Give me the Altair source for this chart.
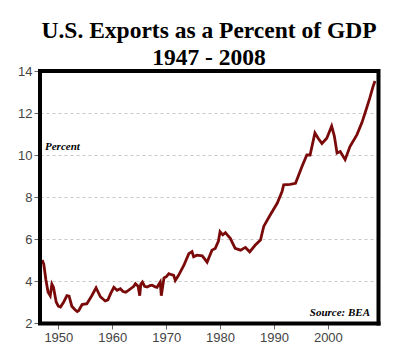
import altair as alt
import pandas as pd

years = [1947.0, 1947.3, 1947.7, 1948.1, 1948.5, 1948.8, 1949.1, 1949.6, 1950.0, 1950.4,
         1951.0, 1951.6, 1952.0, 1952.5, 1953.1, 1953.5, 1953.8, 1954.4, 1955.3, 1956.2,
         1957.0, 1957.8, 1958.7, 1959.2, 1959.7, 1960.3, 1960.9, 1961.5, 1962.0, 1962.5,
         1963.0, 1963.4, 1964.0, 1964.3, 1964.8, 1965.1, 1965.3, 1965.6, 1966.0, 1966.5,
         1967.0, 1967.4, 1968.0, 1968.3, 1968.9, 1969.1, 1969.6, 1970.0, 1970.5, 1971.0,
         1971.4, 1971.7, 1972.3, 1973.3, 1974.2, 1974.8, 1975.1, 1975.7, 1976.7, 1977.6,
         1978.5, 1979.1, 1979.7, 1980.0, 1980.5, 1981.0, 1981.5, 1981.9, 1982.8, 1983.8,
         1984.7, 1985.5, 1986.5, 1987.5, 1988.1, 1989.3, 1990.6, 1991.5, 1991.8, 1993.0,
         1994.0, 1995.2, 1996.1, 1996.7, 1997.6, 1998.2, 1998.9, 1999.8, 2000.7, 2001.2,
         2001.7, 2002.3, 2003.2, 2004.1, 2005.4, 2006.3, 2006.9, 2007.8, 2008.4, 2008.75]
values = [5.0, 4.8, 4.05, 3.47, 3.3, 3.85, 3.7, 3.0, 2.8, 2.76,
          3.0, 3.3, 3.28, 2.8, 2.63, 2.55, 2.6, 2.88, 2.92, 3.3,
          3.68, 3.25, 3.05, 3.1, 3.4, 3.7, 3.56, 3.63, 3.5, 3.47,
          3.55, 3.63, 3.75, 3.87, 3.75, 3.3, 3.85, 3.95, 3.75, 3.71,
          3.78, 3.8, 3.72, 3.7, 3.95, 3.3, 4.15, 4.2, 4.35, 4.3,
          4.27, 4.03, 4.27, 4.75, 5.3, 5.4, 5.15, 5.23, 5.2, 4.9,
          5.47, 5.55, 5.9, 6.35, 6.2, 6.3, 6.15, 6.03, 5.55, 5.47,
          5.6, 5.39, 5.7, 5.95, 6.6, 7.14, 7.7, 8.26, 8.58, 8.6,
          8.65, 9.45, 10.0, 10.0, 11.05, 10.8, 10.55, 10.8, 11.37, 10.9,
          10.1, 10.17, 9.78, 10.4, 10.97, 11.53, 12.0, 12.73, 13.28, 13.52]

title_lines = ["U.S. Exports as a Percent of GDP", "1947 - 2008"]
y_ticks = [2, 4, 6, 8, 10, 12, 14]
x_ticks = [1950, 1960, 1970, 1980, 1990, 2000]

df = pd.DataFrame({"year": years, "value": values})

W, H = 338, 252

x_scale = alt.Scale(domain=[1946.6, 2009.3], nice=False, zero=False)
y_scale = alt.Scale(domain=[2, 14], nice=False, zero=False)

line = alt.Chart(df).mark_line(color="#7a0a0a", strokeWidth=2.8).encode(
    x=alt.X("year:Q", scale=x_scale,
            axis=alt.Axis(values=x_ticks, format="d", title=None, grid=False, domain=False,
                          tickSize=6, tickColor="#666", labelColor="#444", labelFontSize=13,
                          labelFont="Liberation Sans", labelPadding=2)),
    y=alt.Y("value:Q", scale=y_scale,
            axis=alt.Axis(values=y_ticks, title=None, grid=True, gridDash=[3, 3], gridColor="#c8c8c8",
                          domain=False, tickSize=6, tickColor="#666", labelColor="#444",
                          labelFontSize=13, labelFont="Liberation Sans", labelPadding=2)),
)

t1 = alt.Chart(pd.DataFrame({"t": [title_lines[0]]})).mark_text(
    font="Liberation Serif", fontSize=23.5, fontWeight="bold", align="center", baseline="alphabetic"
).encode(text="t:N", x=alt.value(W / 2), y=alt.value(-33))
t2 = alt.Chart(pd.DataFrame({"t": [title_lines[1]]})).mark_text(
    font="Liberation Serif", fontSize=23.5, fontWeight="bold", align="center", baseline="alphabetic"
).encode(text="t:N", x=alt.value(W / 2), y=alt.value(-6))

pct = alt.Chart(pd.DataFrame({"t": ["Percent"]})).mark_text(
    font="Liberation Serif", fontSize=11, fontWeight="bold", fontStyle="italic", align="left"
).encode(text="t:N", x=alt.value(5), y=alt.value(76))
src = alt.Chart(pd.DataFrame({"t": ["Source: BEA"]})).mark_text(
    font="Liberation Serif", fontSize=11, fontWeight="bold", fontStyle="italic", align="right"
).encode(text="t:N", x=alt.value(W - 8), y=alt.value(H - 10))

one = pd.DataFrame({"a": [0]})
b_left = alt.Chart(one).mark_rule(color="black", strokeWidth=4).encode(
    x=alt.value(0), y=alt.value(-2), y2=alt.value(H + 2))
b_top = alt.Chart(one).mark_rule(color="black", strokeWidth=4).encode(
    y=alt.value(0), x=alt.value(-2), x2=alt.value(W + 2))
b_right = alt.Chart(one).mark_rule(color="black", strokeWidth=4).encode(
    x=alt.value(W + 0.5), y=alt.value(-2), y2=alt.value(H + 2.5))
b_bottom = alt.Chart(one).mark_rule(color="black", strokeWidth=4).encode(
    y=alt.value(H + 0.5), x=alt.value(-2), x2=alt.value(W + 2.5))

chart = alt.layer(line, t1, t2, pct, src, b_left, b_top, b_right, b_bottom).properties(
    width=W, height=H,
    background="white",
    autosize=alt.AutoSizeParams(type="none"),
    padding={"left": 40, "top": 71, "right": 22, "bottom": 28},
).configure_view(stroke=None)

chart.save("out.html", embed_options={"renderer": "svg", "actions": False})
